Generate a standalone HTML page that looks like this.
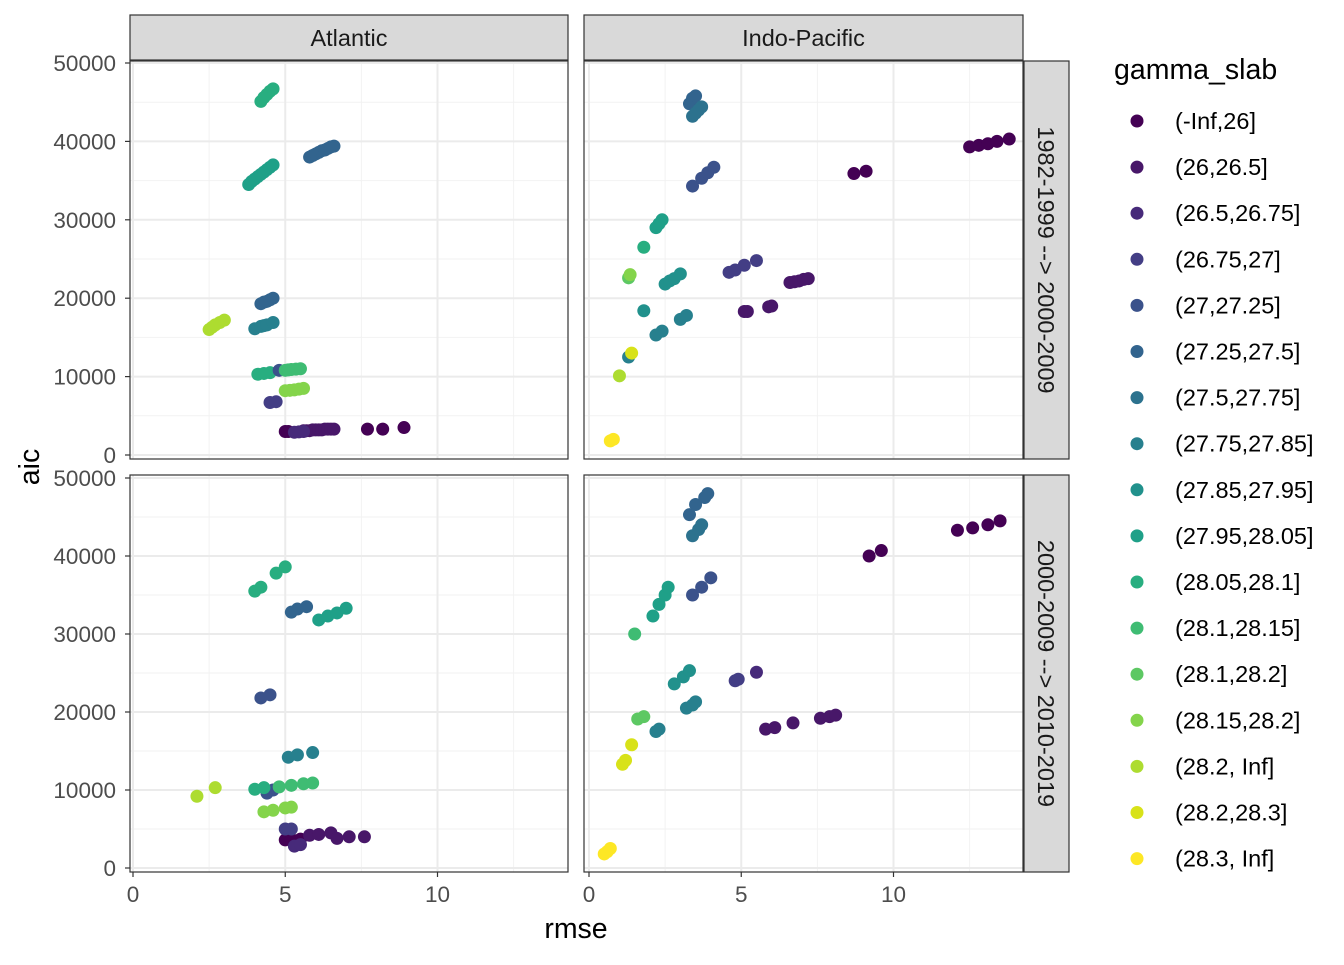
<!DOCTYPE html>
<html><head><meta charset="utf-8"><style>
body{margin:0;background:#fff;}
svg{font-family:"Liberation Sans",sans-serif;}
</style></head><body>
<svg id="chart" width="1344" height="960" xmlns="http://www.w3.org/2000/svg"></svg>
<script>
const colors=["#440154","#481769","#472A7A","#433E85","#3B528B","#32648E","#2C728E","#27808E","#21918C","#1FA088","#28AE80","#3FBC73","#5DC863","#84D44B","#ADDC30","#D8E219","#FDE725"];
const levels=["(-Inf,26]","(26,26.5]","(26.5,26.75]","(26.75,27]","(27,27.25]","(27.25,27.5]","(27.5,27.75]","(27.75,27.85]","(27.85,27.95]","(27.95,28.05]","(28.05,28.1]","(28.1,28.15]","(28.1,28.2]","(28.15,28.2]","(28.2, Inf]","(28.2,28.3]","(28.3, Inf]"];
const xTicks=[0,5,10];
const yTicks=[0,10000,20000,30000,40000,50000];
const colFacets=["Atlantic","Indo-Pacific"];
const rowFacets=["1982-1999 --> 2000-2009","2000-2009 --> 2010-2019"];
// [rmse, aic(thousands), level]
const dataTL=[[5.0,3.0,0],[5.1,3.0,0],[5.6,3.1,1],[5.7,3.1,1],[5.8,3.1,1],[5.9,3.2,1],[6.0,3.2,1],[6.1,3.2,1],[6.2,3.2,1],[6.3,3.3,1],[6.4,3.3,1],[6.5,3.3,1],[6.6,3.3,1],[7.7,3.3,0],[8.2,3.3,0],[8.9,3.5,0],[5.3,2.9,2],[5.45,2.95,2],[5.6,3.0,2],[4.5,6.7,3],[4.7,6.8,3],[4.2,19.3,5],[4.3,19.5,5],[4.4,19.6,5],[4.5,19.8,5],[4.6,20.0,5],[4.0,16.1,7],[4.2,16.4,7],[4.3,16.5,7],[4.4,16.6,7],[4.6,16.9,7],[3.8,34.5,9],[3.9,34.9,9],[4.0,35.2,9],[4.1,35.5,9],[4.2,35.8,9],[4.3,36.1,9],[4.4,36.4,9],[4.5,36.7,9],[4.6,37.0,9],[4.2,45.1,10],[4.3,45.6,10],[4.4,46.0,10],[4.5,46.4,10],[4.6,46.7,10],[5.8,38.0,5],[5.9,38.2,5],[6.0,38.4,5],[6.1,38.6,5],[6.2,38.8,5],[6.3,38.9,5],[6.4,39.1,5],[6.5,39.3,5],[6.6,39.4,5],[4.1,10.3,10],[4.3,10.4,10],[4.5,10.5,10],[4.8,10.8,4],[5.0,10.8,11],[5.1,10.85,11],[5.2,10.9,11],[5.35,10.95,11],[5.5,11.0,11],[5.0,8.2,13],[5.15,8.25,13],[5.3,8.3,13],[5.45,8.4,13],[5.6,8.5,13],[2.5,16.0,14],[2.6,16.3,14],[2.7,16.6,14],[2.85,16.9,14],[3.0,17.2,14]];
const dataTR=[[12.5,39.3,0],[12.8,39.5,0],[13.1,39.7,0],[13.4,40.0,0],[13.8,40.3,0],[8.7,35.9,0],[9.1,36.2,0],[6.6,22.0,1],[6.75,22.1,1],[6.9,22.2,1],[7.05,22.4,1],[7.2,22.5,1],[5.1,18.3,1],[5.2,18.3,1],[5.9,18.9,1],[6.0,19.0,1],[4.6,23.3,3],[4.8,23.6,3],[5.1,24.2,3],[5.5,24.8,3],[3.4,34.3,4],[3.7,35.3,4],[3.9,36.0,4],[4.1,36.7,4],[3.3,44.8,5],[3.4,45.5,5],[3.5,45.8,5],[3.4,43.2,6],[3.5,43.6,6],[3.6,44.0,6],[3.7,44.4,6],[3.0,17.3,7],[3.2,17.8,7],[2.2,15.3,7],[2.4,15.8,7],[2.5,21.8,8],[2.65,22.2,8],[2.8,22.5,8],[3.0,23.1,8],[1.8,18.4,8],[1.3,12.5,7],[2.2,29.0,9],[2.3,29.5,9],[2.4,30.0,9],[1.8,26.5,10],[1.3,22.6,12],[1.35,23.0,13],[1.0,10.1,14],[1.4,13.0,15],[0.7,1.8,16],[0.8,2.0,16]];
const dataBL=[[5.0,3.6,0],[5.2,3.7,0],[5.5,3.7,0],[5.8,4.2,1],[6.1,4.3,1],[6.5,4.5,1],[6.7,3.8,1],[7.1,4.0,1],[7.6,4.0,1],[5.3,2.8,2],[5.5,3.0,2],[5.0,5.0,3],[5.2,5.0,3],[4.2,21.8,4],[4.5,22.2,4],[4.4,9.6,4],[4.6,10.0,4],[5.2,32.8,5],[5.4,33.2,5],[5.7,33.5,5],[5.1,14.2,7],[5.4,14.5,7],[5.9,14.8,7],[6.1,31.8,9],[6.4,32.3,9],[6.7,32.7,9],[7.0,33.3,9],[4.0,35.5,10],[4.2,36.0,10],[4.7,37.8,10],[5.0,38.6,10],[4.0,10.1,10],[4.3,10.3,10],[4.8,10.4,11],[5.2,10.6,11],[5.6,10.8,11],[5.9,10.9,11],[4.3,7.2,13],[4.6,7.4,13],[5.0,7.7,13],[5.2,7.8,13],[2.1,9.2,14],[2.7,10.3,14]];
const dataBR=[[9.2,40.0,0],[9.6,40.7,0],[12.1,43.3,0],[12.6,43.6,0],[13.1,44.0,0],[13.5,44.5,0],[7.6,19.2,1],[7.9,19.4,1],[8.1,19.6,1],[5.8,17.8,1],[6.1,18.0,1],[6.7,18.6,1],[4.8,24.0,3],[4.9,24.2,3],[5.5,25.1,2],[3.4,35.0,4],[3.7,36.0,4],[4.0,37.2,4],[3.3,45.3,5],[3.5,46.6,5],[3.8,47.5,5],[3.9,48.0,5],[3.4,42.6,6],[3.6,43.4,6],[3.7,44.0,6],[3.2,20.5,7],[3.4,20.9,7],[3.5,21.3,7],[2.2,17.5,7],[2.3,17.8,7],[2.8,23.6,8],[3.1,24.5,8],[3.3,25.3,8],[2.1,32.3,9],[2.3,33.8,9],[2.5,35.0,9],[2.6,36.0,9],[1.5,30.0,11],[1.6,19.1,12],[1.8,19.4,12],[1.1,13.3,15],[1.2,13.8,15],[1.4,15.8,15],[0.5,1.8,16],[0.6,2.1,16],[0.7,2.5,16]];

const NS="http://www.w3.org/2000/svg";
const svg=document.getElementById("chart");
function mk(tag,attrs,parent){const e=document.createElementNS(NS,tag);for(const k in attrs)e.setAttribute(k,attrs[k]);(parent||svg).appendChild(e);return e;}
const panels=[
 {x0:130,x1:568,y0:61,y1:459,data:dataTL,zero:133,top0:455,top50:63,name:"atlantic-1982"},
 {x0:584,x1:1023,y0:61,y1:459,data:dataTR,zero:589,top0:455,top50:63,name:"indopacific-1982"},
 {x0:130,x1:568,y0:475,y1:872,data:dataBL,zero:133,top0:868,top50:478,name:"atlantic-2000"},
 {x0:584,x1:1023,y0:475,y1:872,data:dataBR,zero:589,top0:868,top50:478,name:"indopacific-2000"}];
const xs=30.45;
panels.forEach((p,pi)=>{
  const sx=v=>p.zero+v*xs;
  const sy=v=>p.top0+(p.top50-p.top0)*v/50000;
  const g=mk("g",{});
  
  
  mk("rect",{x:p.x0,y:p.y0,width:p.x1-p.x0,height:p.y1-p.y0,fill:"#fff"},g);
  [2.5,7.5,12.5].forEach(v=>mk("line",{x1:sx(v),x2:sx(v),y1:p.y0,y2:p.y1,stroke:"#F2F2F2","stroke-width":1},g));
  [5000,15000,25000,35000,45000].forEach(v=>mk("line",{x1:p.x0,x2:p.x1,y1:sy(v),y2:sy(v),stroke:"#F2F2F2","stroke-width":1},g));
  xTicks.forEach(v=>mk("line",{x1:sx(v),x2:sx(v),y1:p.y0,y2:p.y1,stroke:"#EBEBEB","stroke-width":2},g));
  yTicks.forEach(v=>mk("line",{x1:p.x0,x2:p.x1,y1:sy(v),y2:sy(v),stroke:"#EBEBEB","stroke-width":2},g));
  p.data.forEach(d=>{
    const c=mk("circle",{cx:sx(d[0]),cy:sy(d[1]*1000),r:6.5,fill:colors[d[2]]},g);
    
    
  });
  mk("rect",{x:p.x0,y:p.y0,width:p.x1-p.x0,height:p.y1-p.y0,fill:"none",stroke:"#333","stroke-width":1.2},g);
  if(pi%2==0){
    yTicks.forEach(v=>{
      mk("line",{x1:p.x0-5,x2:p.x0,y1:sy(v),y2:sy(v),stroke:"#333","stroke-width":1.2});
      const t=mk("text",{x:p.x0-14,y:sy(v)+8,"text-anchor":"end","font-size":22.5,fill:"#4D4D4D"});t.textContent=v;
      
      
    });
  }
  if(pi>=2){
    xTicks.forEach(v=>{
      mk("line",{x1:sx(v),x2:sx(v),y1:p.y1,y2:p.y1+5,stroke:"#333","stroke-width":1.2});
      const t=mk("text",{x:sx(v),y:p.y1+30,"text-anchor":"middle","font-size":22.5,fill:"#4D4D4D"});t.textContent=v;
      
      
    });
  }
});
colFacets.forEach((f,i)=>{
  const x0=i?584:130,x1=i?1023:568;
  const r=mk("rect",{x:x0,y:15,width:x1-x0,height:45,fill:"#D9D9D9",stroke:"#333","stroke-width":1.2});
  
  
  const t=mk("text",{x:(x0+x1)/2,y:46,"text-anchor":"middle","font-size":23.5,fill:"#1A1A1A"});t.textContent=f;
  
  
});
rowFacets.forEach((f,i)=>{
  const y0=i?475:61,y1=i?872:459;
  const r=mk("rect",{x:1024,y:y0,width:45,height:y1-y0,fill:"#D9D9D9",stroke:"#333","stroke-width":1.2});
  
  
  const cy=(y0+y1)/2;
  const t=mk("text",{x:1038,y:cy,"text-anchor":"middle","font-size":23.5,fill:"#1A1A1A",transform:`rotate(90 1038 ${cy})`});t.textContent=f;
  
  
});
let t=mk("text",{x:576,y:938,"text-anchor":"middle","font-size":28.5,fill:"#000"});t.textContent="rmse";


t=mk("text",{x:39,y:467,"text-anchor":"middle","font-size":28.5,fill:"#000",transform:"rotate(-90 39 467)"});t.textContent="aic";


t=mk("text",{x:1114,y:79,"font-size":28.5,fill:"#000"});t.textContent="gamma_slab";


levels.forEach((l,i)=>{
  const y=121+46.1*i;
  const c=mk("circle",{cx:1137,cy:y,r:6.5,fill:colors[i]});
  
  
  const tt=mk("text",{x:1175,y:y+8,"font-size":23.5,fill:"#000"});tt.textContent=l;
  
  
});
</script>
</body></html>
